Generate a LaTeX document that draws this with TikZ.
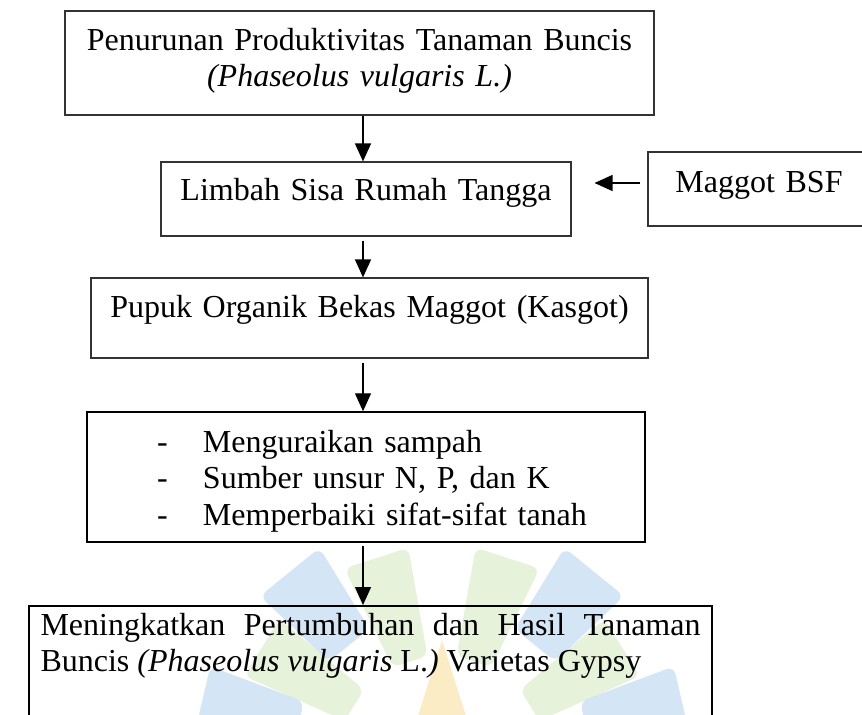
\documentclass[tikz,border=0pt]{standalone}
\usepackage{fontspec}
\setmainfont{Liberation Serif}
\usetikzlibrary{arrows.meta}
\hyphenpenalty=10000
\newcommand{\butir}[1]{\leavevmode\hbox to 43.5pt{\hskip26.25pt -\hfil}#1}
\definecolor{biru}{RGB}{212,230,245}
\definecolor{hijau}{RGB}{231,242,219}
\definecolor{kuning}{RGB}{251,236,198}

\tikzset{
  kotak/.style={draw=black!80, line width=0.45pt, inner sep=0pt, anchor=base, align=center,
    font=\fontsize{12}{13.8}\selectfont},
  panah/.style={line width=0.5pt, -{Triangle[length=6.75pt,width=6pt]}},
  kelopak/.style={fill=#1, draw=none, rounded corners=3pt},
}

\begin{document}
\begin{tikzpicture}[x=0.375pt, y=-0.375pt]
  %%%%% START %%%%%
  \useasboundingbox (0,0) rectangle (862,714);

  % logo samar di latar
  \begin{scope}[shift={(442,760)}]
    \foreach \sudut/\warna/\ra/\rb in {-108/hijau/105/215, -72/hijau/105/215, -148/hijau/105/215, -32/hijau/105/215,
        -129/biru/150/245, -51/biru/150/245, -167/biru/150/250, -13/biru/150/250}
      \fill[kelopak=\warna] (\sudut-10:\ra) -- (\sudut-9:\rb) -- (\sudut+9:\rb) -- (\sudut+10:\ra) -- cycle;
    \fill[kuning] (-90:120) \foreach \i in {1,...,4} {-- (-90+72*\i-36:45) -- (-90+72*\i:120)} -- (-90-36:45) -- cycle;
  \end{scope}

  \coordinate (sumbu) at (363,0);
  \coordinate (sisi) at (0,183);

  \node[kotak, text width=220.875pt, text height=14.625pt, text depth=24.375pt] (penurunan) at (359.5,50)
    {Penurunan Produktivitas Tanaman Buncis\\\textit{(Phaseolus vulgaris L.)}};

  \node[kotak, text width=153.75pt, text height=14.25pt, text depth=13.5pt] (limbah) at (366,200)
    {Limbah Sisa Rumah Tangga};
  \node[kotak, text width=83.25pt, text height=15pt, text depth=12.75pt] (maggot) at (759,192)
    {Maggot BSF};

  \node[kotak, text width=208.875pt, text height=14.625pt, text depth=15.375pt] (kasgot) at (369.5,317)
    {Pupuk Organik Bekas Maggot (Kasgot)};

  \node[kotak, draw=black, line width=0.55pt, align=left, text width=209.25pt,
    text height=15pt, text depth=33.75pt] (manfaat) at (366,452)
    {\butir{Menguraikan sampah}\\\butir{Sumber unsur N, P, dan K}\\\butir{Memperbaiki sifat-sifat tanah}};

  \node[kotak, draw=black, line width=0.75pt, anchor=base west, align=justify, inner xsep=4.3125pt,
    text width=247.5pt, text height=10.875pt, text depth=56.25pt] (hasil) at (28,635)
    {Meningkatkan Pertumbuhan dan Hasil Tanaman Buncis \textit{(Phaseolus vulgaris} L.\textit{)} Varietas Gypsy};

  % panah
  \draw[panah] (penurunan.south -| sumbu) -- (limbah.north -| sumbu);
  \draw[panah, shorten <=2.6pt, shorten >=8.6pt] (maggot.west |- sisi) -- (limbah.east |- sisi);
  \draw[panah, shorten <=1.5pt] (limbah.south -| sumbu) -- (kasgot.north -| sumbu);
  \draw[panah, shorten <=1.5pt] (kasgot.south -| sumbu) -- (manfaat.north -| sumbu);
  \draw[panah, shorten <=1.2pt] (manfaat.south -| sumbu) -- (hasil.north -| sumbu);
  %%%%% END %%%%%
\end{tikzpicture}
\end{document}
